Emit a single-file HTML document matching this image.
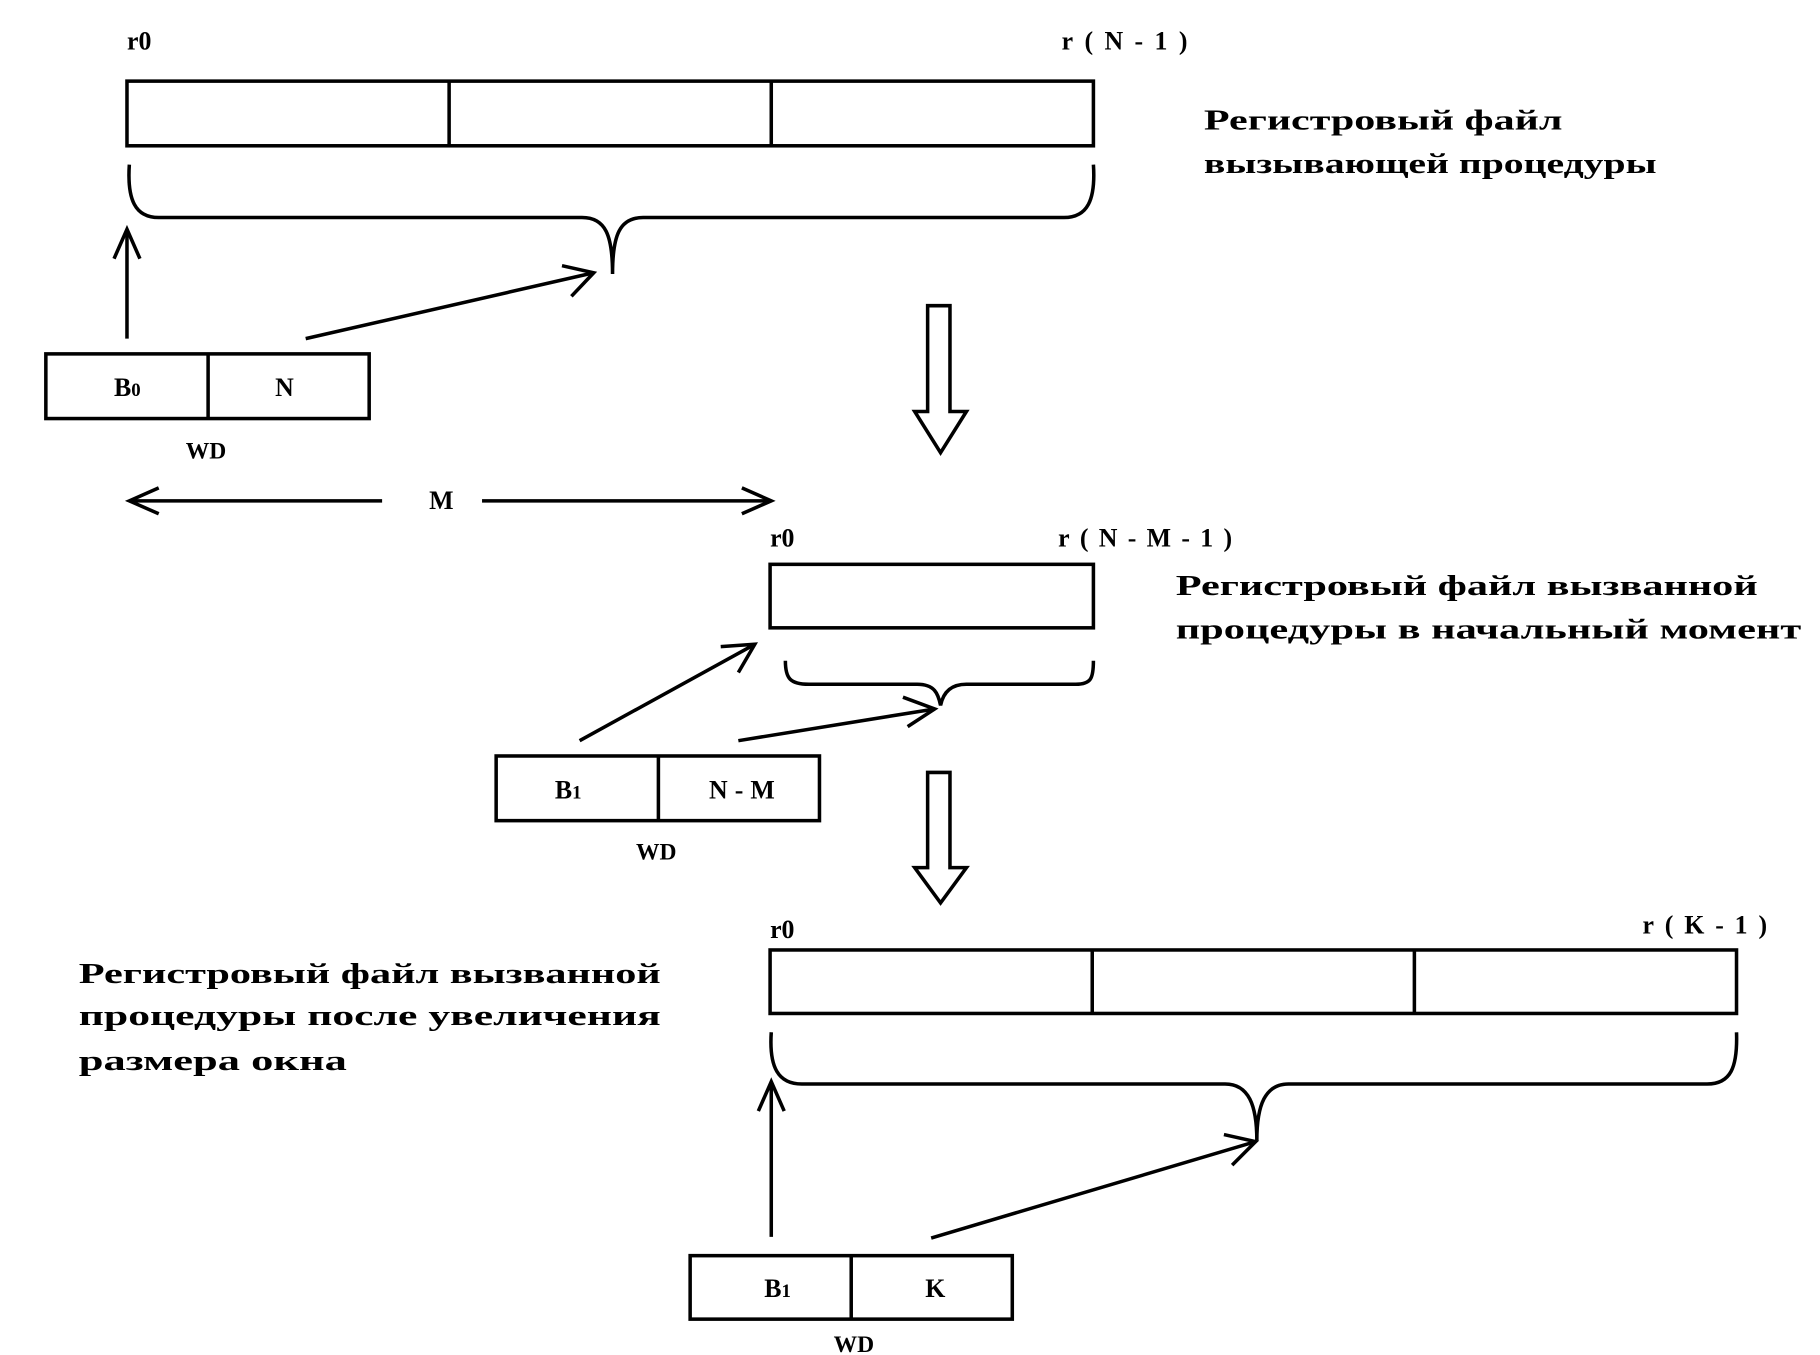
<!DOCTYPE html>
<html><head><meta charset="utf-8"><style>
html,body{margin:0;padding:0;background:#fff;}
svg{display:block;}
text{font-family:"Liberation Serif",serif;font-weight:bold;fill:#000;}
</style></head><body>
<svg width="1820" height="1355" viewBox="0 0 1548 1152.5" preserveAspectRatio="none" xmlns="http://www.w3.org/2000/svg">
<g fill="none" stroke="#000" stroke-width="3">
<rect x="108" y="69" width="822" height="55"/>
<line x1="382" y1="69" x2="382" y2="124"/>
<line x1="656" y1="69" x2="656" y2="124"/>
<path d="M110,140 C108,170 115,185 135,185 L495,185 C515,185 521,200 521,233 C521,200 527,185 547,185 L905,185 C925,185 932,170 930,140"/>
<line x1="108" y1="288" x2="108" y2="197"/>
<path d="M97,220 L108,195 L119,220"/>
<line x1="260" y1="288" x2="505" y2="232"/>
<path d="M478,226 L505,232 L486,252"/>
<rect x="39" y="301" width="275" height="55"/>
<line x1="177" y1="301" x2="177" y2="356"/>
<path d="M789,260 L808,260 L808,350 L822,350 L800,385 L778,350 L789,350 Z"/>
<line x1="110" y1="426" x2="325" y2="426"/>
<line x1="410" y1="426" x2="656" y2="426"/>
<path d="M135,415 L110,426 L135,437"/>
<path d="M631,415 L656,426 L631,437"/>
<rect x="655" y="480" width="275" height="54"/>
<path d="M668,562 C668,577 672,582 688,582 L780,582 C795,582 798,590 800,600 C802,590 808,582 822,582 L915,582 C928,582 930,577 930,562"/>
<line x1="493" y1="630" x2="642" y2="548"/>
<path d="M613,550 L642,548 L628,572"/>
<line x1="628" y1="630" x2="795" y2="603"/>
<path d="M768,593 L795,603 L772,618"/>
<rect x="422" y="643" width="275" height="55"/>
<line x1="560" y1="643" x2="560" y2="698"/>
<path d="M789,657 L808,657 L808,738 L822,738 L800,768 L778,738 L789,738 Z"/>
<rect x="655" y="808" width="822" height="54"/>
<line x1="929" y1="808" x2="929" y2="862"/>
<line x1="1203" y1="808" x2="1203" y2="862"/>
<path d="M656,878 C654,908 662,922 682,922 L1042,922 C1062,922 1069,940 1069,970 C1069,940 1076,922 1096,922 L1452,922 C1472,922 1478,908 1477,878"/>
<line x1="656" y1="1052" x2="656" y2="922"/>
<path d="M645,945 L656,920 L667,945"/>
<line x1="792" y1="1053" x2="1068" y2="971"/>
<path d="M1041,965 L1068,971 L1048,991"/>
<rect x="587" y="1068" width="274" height="54"/>
<line x1="724" y1="1068" x2="724" y2="1122"/>
</g>
<g font-size="22">
<text x="108" y="42">r0</text>
<text x="903" y="42" textLength="107" lengthAdjust="spacing">r(N-1)</text>
<text x="1024" y="110" font-size="24" textLength="305" lengthAdjust="spacingAndGlyphs">Регистровый  файл</text>
<text x="1024" y="147" font-size="24" textLength="385" lengthAdjust="spacingAndGlyphs">вызывающей  процедуры</text>
<text x="97" y="337">B<tspan font-size="16">0</tspan></text>
<text x="234" y="337">N</text>
<text x="158" y="390" font-size="20">WD</text>
<text x="365" y="433">M</text>
<text x="655" y="465">r0</text>
<text x="900" y="465" textLength="148" lengthAdjust="spacing">r(N-M-1)</text>
<text x="1000" y="506" font-size="24" textLength="495" lengthAdjust="spacingAndGlyphs">Регистровый  файл  вызванной</text>
<text x="1000" y="543" font-size="24" textLength="532" lengthAdjust="spacingAndGlyphs">процедуры  в  начальный  момент</text>
<text x="472" y="679">B<tspan font-size="16">1</tspan></text>
<text x="603" y="679" textLength="56" lengthAdjust="spacing">N-M</text>
<text x="541" y="731" font-size="20">WD</text>
<text x="655" y="798">r0</text>
<text x="1397" y="794" textLength="106" lengthAdjust="spacing">r(K-1)</text>
<text x="67" y="836" font-size="24" textLength="495" lengthAdjust="spacingAndGlyphs">Регистровый  файл  вызванной</text>
<text x="67" y="872" font-size="24" textLength="495" lengthAdjust="spacingAndGlyphs">процедуры  после  увеличения</text>
<text x="67" y="910" font-size="24" textLength="228" lengthAdjust="spacingAndGlyphs">размера  окна</text>
<text x="650" y="1103">B<tspan font-size="16">1</tspan></text>
<text x="787" y="1103">K</text>
<text x="709" y="1150" font-size="20">WD</text>
</g>
</svg>
</body></html>
